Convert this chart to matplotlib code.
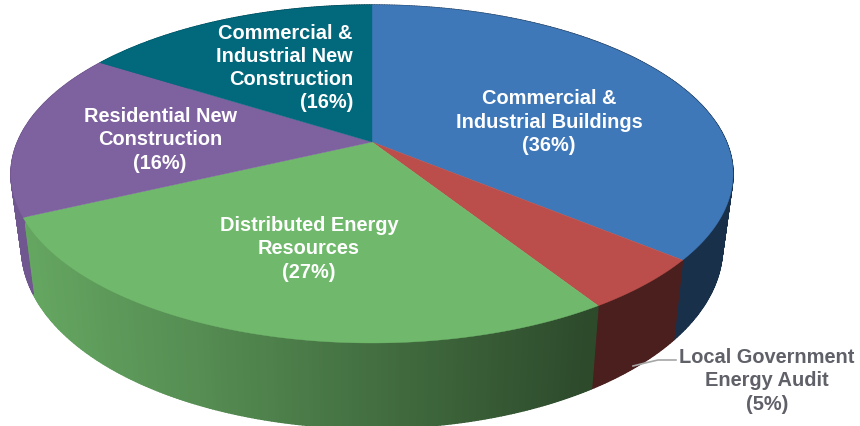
import numpy as np
import matplotlib
matplotlib.use("Agg")
import matplotlib.pyplot as plt
from matplotlib.collections import PolyCollection
from matplotlib.colors import to_rgb

# slices, clockwise from 12 o'clock
labels = [
    "Commercial &\nIndustrial Buildings",
    "Local Government\nEnergy Audit",
    "Distributed Energy\nResources",
    "Residential New\nConstruction",
    "Commercial &\nIndustrial New\nConstruction",
]
shares = [36, 5, 27, 16, 16]
colors = ["#3f78b9", "#bb4e4a", "#70b96c", "#7e619f", "#02687c"]

# --- projection of the unit disc to image pixels (tilted, with perspective) ---
CX, APEX_Y = 372, 143
A, B, K = 354.5, -135.86, 0.1893


def top_xy(theta):
    u, v = np.sin(theta), np.cos(theta)
    w = 1 + K * v
    return CX + A * u / w, (B * v + APEX_Y) / w


def bottom_xy(theta):
    x, y = top_xy(theta)
    # rim gets deeper towards the viewer, vertical edges converge a bit
    depth = 70 - 15.5 * np.cos(theta)
    return x - (x - CX) * 0.029, y + depth


def side_shade(x):
    return np.interp(x, [22, 200, 590, 733], [0.90, 0.76, 0.40, 0.40])


fig = plt.figure(figsize=(8.6, 4.27), dpi=100)
ax = fig.add_axes([0, 0, 1, 1])
ax.set_xlim(0, 860)
ax.set_ylim(427, 0)
ax.axis("off")

edges = np.cumsum([0] + shares) / sum(shares) * 2 * np.pi

# --- side wall, thin strips so the shading looks continuous ---
for start, end, col in zip(edges[:-1], edges[1:], colors):
    th = np.linspace(start, end, max(int((end - start) * 120), 2))
    xt, yt = top_xy(th)
    xb, yb = bottom_xy(th)
    quads = []
    fc = []
    for i in range(len(th) - 1):
        quads.append([(xt[i], yt[i]), (xt[i + 1], yt[i + 1]), (xb[i + 1], yb[i + 1]), (xb[i], yb[i])])
        f = side_shade((xt[i] + xt[i + 1]) / 2)
        fc.append(tuple(np.array(to_rgb(col)) * f))
    ax.add_collection(PolyCollection(quads, facecolors=fc, edgecolors=fc, linewidths=1.0, zorder=1))

# --- top face ---
for start, end, col in zip(edges[:-1], edges[1:], colors):
    th = np.linspace(start, end, 200)
    xt, yt = top_xy(th)
    ax.fill(np.r_[CX, xt], np.r_[APEX_Y, yt], color=col, lw=0.3, zorder=2)

# --- labels ---
FS = 14.4
txt = dict(fontsize=FS, fontweight="bold", family="Liberation Sans", zorder=4, linespacing=1.27)
label_pos = [(549, 122, "center"), (767, 381, "center"), (309, 249, "center"), (160, 140, "center"), (353, 68, "right")]
for lab, val, (x, y, ha) in zip(labels, shares, label_pos):
    col = "#5f6068" if val == 5 else "white"
    ax.text(x, y, f"{lab}\n({val}%)", color=col, ha=ha, va="center", multialignment=ha, **txt)

# leader line to the small slice
ax.plot([633, 645, 658, 676], [367, 364, 361, 361], color="#a6a6a6", lw=1.2, zorder=3)

fig.savefig("out.png", dpi=100)
